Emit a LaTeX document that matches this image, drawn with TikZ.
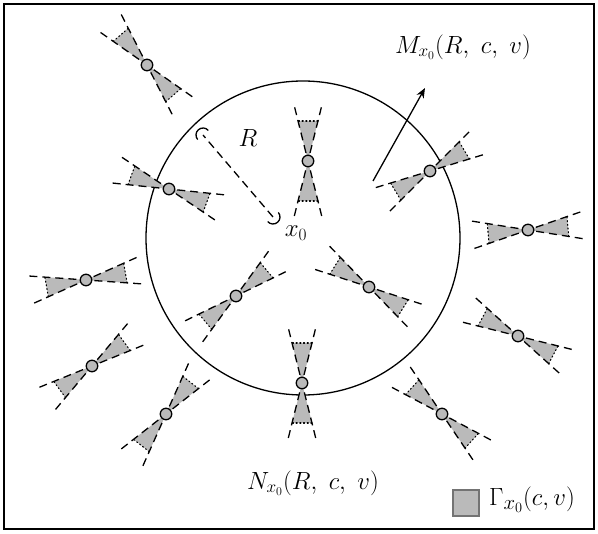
\documentclass[tikz,border=0pt]{standalone}
\usetikzlibrary{arrows.meta}
\begin{document}
\begin{tikzpicture}[x=1pt,y=-1pt,
  lw/.style={line width=1.3pt},
  conegray/.style={fill=black!27},
  dashline/.style={lw,dash pattern=on 8pt off 5pt},
  dotbase/.style={line width=1.1pt,dash pattern=on 1.1pt off 2.6pt,line cap=round},
  dotnode/.style={circle,draw,lw,fill=black!27,inner sep=0pt,minimum size=11.5pt},
  cone/.pic={
    \fill[conegray] (0,0) -- (40,10) -- (40,-10) -- cycle;
    \fill[conegray] (0,0) -- (-40,10) -- (-40,-10) -- cycle;
    \draw[dotbase] (40,10) -- (40,-10);
    \draw[dotbase] (-40,10) -- (-40,-10);
    \draw[dashline] (-55,-13.7) -- (55,13.7);
    \draw[dashline] (-55,13.7) -- (55,-13.7);
    \node[dotnode] (-dot) at (0,0) {};
  },
  endcap/.pic={\draw[lw] (0,-7) arc[start angle=-90,end angle=90,radius=7];},
  lab/.style={inner sep=0pt,font=\fontsize{24}{28}\selectfont},
  leglab/.style={inner sep=0pt,font=\fontsize{28}{32}\selectfont}
]
\useasboundingbox (0,0) rectangle (598,534);
\draw[lw] (4,4) rectangle (594,529);
\draw[lw] (303,238) circle[radius=157];
% cones
\pic[rotate=-49] (c1) at (147,65) {cone};
\pic[rotate=90] (c2) at (308,161) {cone};
\pic[rotate=-20] (c3) at (169,189) {cone};
\pic[rotate=31] (c4) at (430,171) {cone};
\pic[rotate=5] (c5) at (528,230) {cone};
\pic[rotate=10] (c6) at (86,280) {cone};
\pic[rotate=40] (c7) at (236,296) {cone};
\pic[rotate=-32] (c8) at (369,287) {cone};
\pic[rotate=-28] (c9) at (518,336) {cone};
\pic[rotate=36] (c10) at (92,366) {cone};
\pic[rotate=90] (c11) at (302,383) {cone};
\pic[rotate=52] (c12) at (166,414) {cone};
\pic[rotate=-42] (c13) at (442,414) {cone};
% radius
\coordinate (x0) at (273,217);
\coordinate (rend) at (203,135);
\draw[dashline] (x0) -- (rend);
\pic[rotate=130.5] at (rend) {endcap};
\pic[rotate=-49.5] at (x0) {endcap};
\node[lab] (R) at (248,138) {$R$};
\node[lab] (x0lab) at (296,233) {$x_0$};
% arrow
\coordinate (as) at (373,181);
\coordinate (ae) at (425,88);
\draw[lw,-{Stealth[length=10pt,width=8pt]}] (as) -- (ae);
\node[lab] (M) at (463,47) {$M_{x_0}(R,\ c,\ v)$};
\node[lab] (N) at (313,483) {$N_{x_0}(R,\ c,\ v)$};
\node[draw=black!55,fill=black!27,line width=1.2pt,minimum size=26pt,inner sep=0pt] (leg) at (466,503) {};
\node[leglab,anchor=west] (G) at (489,500) {$\Gamma_{x_0}(c,v)$};
\end{tikzpicture}
\end{document}
